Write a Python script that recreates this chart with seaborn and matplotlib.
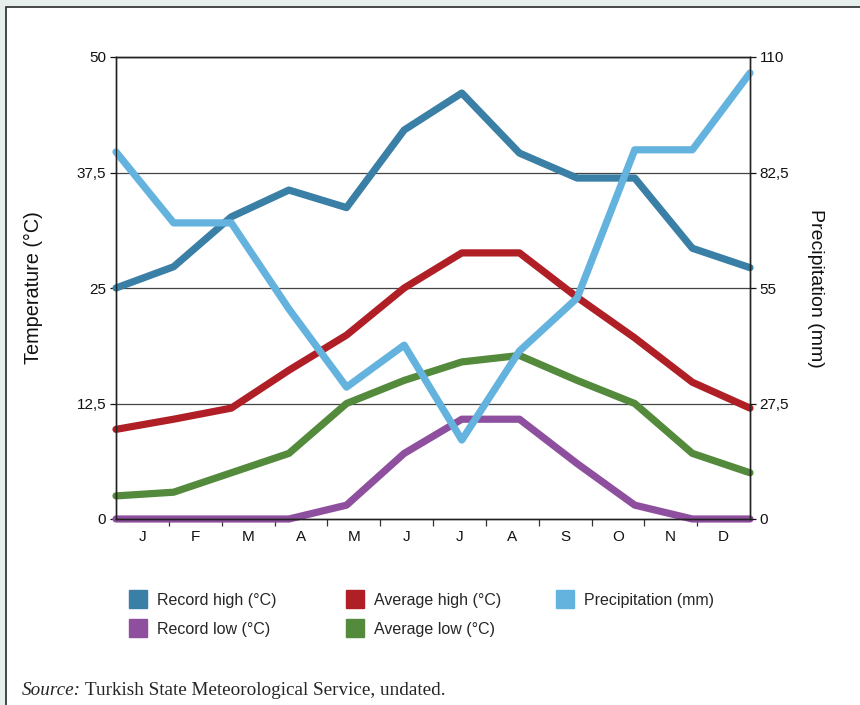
import pandas as pd
import numpy as np
import seaborn as sns
import matplotlib.pyplot as plt
from matplotlib.lines import Line2D
from matplotlib.patches import Rectangle

sns.set_theme(style="white")
plt.rcParams['font.family'] = ['Liberation Sans', 'DejaVu Sans']

months = ["J", "F", "M", "A", "M", "J", "J", "A", "S", "O", "N", "D"]
record_high = [25.0, 27.3, 32.7, 35.6, 33.7, 42.1, 46.1, 39.6, 36.9, 36.9, 29.3, 27.2]
avg_high = [9.7, 10.8, 12.0, 16.1, 19.9, 25.0, 28.8, 28.8, 24.0, 19.6, 14.8, 12.0]
avg_low = [2.5, 2.9, 5.0, 7.1, 12.5, 15.0, 17.0, 17.7, 15.0, 12.5, 7.1, 5.0]
record_low = [0, 0, 0, 0, 1.5, 7.1, 10.8, 10.8, 6.0, 1.5, 0, 0]
precip = [87.4, 70.5, 70.5, 50.0, 31.4, 41.4, 18.8, 40.0, 52.6, 87.9, 87.9, 106.2]

temp_ticks = [0, 12.5, 25, 37.5, 50]
temp_labels = ["0", "12,5", "25", "37,5", "50"]
prec_ticks = [0, 27.5, 55, 82.5, 110]
prec_labels = ["0", "27,5", "55", "82,5", "110"]

colors = {
    "Record high (°C)": "#3a7fa5",
    "Average high (°C)": "#b01f26",
    "Average low (°C)": "#548a3c",
    "Record low (°C)": "#8e4f9e",
    "Precipitation (mm)": "#64b3df",
}

idx = np.arange(len(months))
temp_df = pd.concat([
    pd.DataFrame({"m": idx, "value": record_low, "series": "Record low (°C)"}),
    pd.DataFrame({"m": idx, "value": avg_low, "series": "Average low (°C)"}),
    pd.DataFrame({"m": idx, "value": avg_high, "series": "Average high (°C)"}),
    pd.DataFrame({"m": idx, "value": record_high, "series": "Record high (°C)"}),
])
prec_df = pd.DataFrame({"m": idx, "value": precip})

fig = plt.figure(figsize=(8.6, 7.05), dpi=100)
fig.patch.set_facecolor("#e6efec")
fig.patches.append(Rectangle((6 / 860, -0.1), 1.2, 1 - 7 / 705 + 0.1, transform=fig.transFigure,
                             facecolor="white", edgecolor="#2a2a2a", linewidth=1.2, zorder=-10))

ax = fig.add_axes([116 / 860, 186 / 705, 634 / 860, 462 / 705])
ax.set_facecolor("none")
for y in temp_ticks[1:]:
    ax.axhline(y, color="#444444", lw=0.9, zorder=0)

lw = 5.2
sns.lineplot(data=temp_df, x="m", y="value", hue="series", palette=colors, linewidth=lw,
             legend=False, ax=ax, solid_capstyle="round", solid_joinstyle="round", clip_on=False)

ax2 = ax.twinx()
sns.lineplot(data=prec_df, x="m", y="value", color=colors["Precipitation (mm)"], linewidth=lw,
             ax=ax2, solid_capstyle="round", solid_joinstyle="round", clip_on=False)

n = len(months)
ax.set_xlim(0, n - 1)
ax.set_ylim(0, 50)
ax2.set_ylim(0, 110)

step = (n - 1) / n
ax.set_xticks([(i + 0.5) * step for i in range(n)])
ax.set_xticklabels(months)
ax.set_xticks([i * step for i in range(1, n)], minor=True)
ax.tick_params(axis="x", which="major", length=0, pad=8, labelsize=11, colors="#111111")
ax.tick_params(axis="x", which="minor", length=5, width=0.9, direction="out", bottom=True, color="#333333")

ax.set_yticks(temp_ticks)
ax.set_yticklabels(temp_labels)
ax.tick_params(axis="y", length=4, width=0.9, pad=3, labelsize=11, left=True, colors="#111111")
ax2.set_yticks(prec_ticks)
ax2.set_yticklabels(prec_labels)
ax2.tick_params(axis="y", length=4, width=0.9, pad=3, labelsize=11, right=True, colors="#111111")

ax.set_xlabel(None)
ax.set_ylabel("Temperature (°C)", fontsize=14.3, color="#111111")
ax.yaxis.set_label_coords(-0.115, 0.5)
ax2.set_xlabel(None)
ax2.set_ylabel("Precipitation (mm)", fontsize=14, rotation=270, color="#111111")
ax2.yaxis.set_label_coords(1.117, 0.5)

for a in (ax, ax2):
    for s in a.spines.values():
        s.set_color("#222222")
        s.set_linewidth(1.0)
    a.grid(False)

# legend: three columns placed separately
legend_cols = [
    (["Record high (°C)", "Record low (°C)"], 129),
    (["Average high (°C)", "Average low (°C)"], 346),
    (["Precipitation (mm)"], 556),
]
for labels, x0 in legend_cols:
    handles = [Line2D([], [], marker="s", linestyle="", markersize=12.5, color=colors[k]) for k in labels]
    leg = fig.legend(handles, labels, loc="upper left", bbox_to_anchor=(x0 / 860, 1 - 593 / 705),
                     frameon=False, fontsize=11.5, handlelength=1.1, handletextpad=0.65,
                     labelspacing=0.85, borderpad=0, borderaxespad=0)

t1 = fig.text(22 / 860, 1 - 695 / 705, "Source:", family="Liberation Serif", style="italic",
              fontsize=13.8, va="baseline")
fig.canvas.draw()
bb = t1.get_window_extent()
fig.text((bb.x1 + 4) / 860, 1 - 695 / 705, "Turkish State Meteorological Service, undated.",
         family="Liberation Serif", fontsize=13.8, va="baseline")

fig.savefig("out.png", dpi=100, facecolor=fig.get_facecolor())
